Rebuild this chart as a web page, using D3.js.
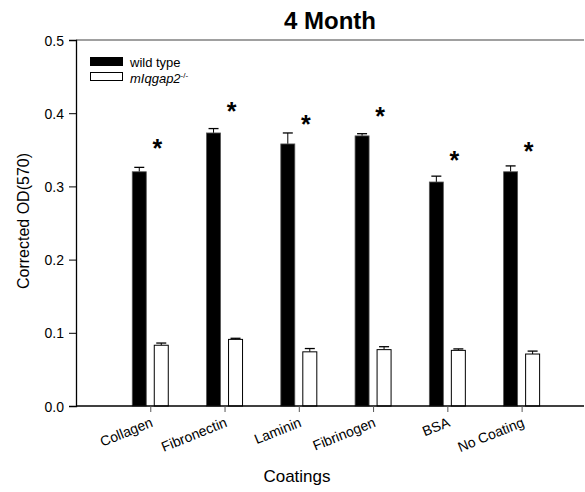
<!DOCTYPE html>
<html>
<head>
<meta charset="utf-8">
<script src="https://cdn.jsdelivr.net/npm/d3@7"></script>
<style>
  body { margin: 0; background: #fff; }
  svg { display: block; font-family: "Liberation Sans", Arial, sans-serif; }
</style>
</head>
<body>
<div class="chart"></div>
<script>
// data
var coatings = ["Collagen", "Fibronectin", "Laminin", "Fibrinogen", "BSA", "No Coating"];
var wildType = [0.320, 0.373, 0.358, 0.369, 0.306, 0.320];
var wildTypeErr = [0.006, 0.006, 0.015, 0.003, 0.008, 0.008];
var knockout = [0.083, 0.091, 0.074, 0.077, 0.076, 0.071];
var knockoutErr = [0.003, 0.0015, 0.0045, 0.004, 0.002, 0.004];
var starLevel = [0.359, 0.410, 0.392, 0.403, 0.343, 0.355];
var yTicks = [0, 0.1, 0.2, 0.3, 0.4, 0.5];

var width = 585, height = 492;
var plotLeft = 76, plotRight = 584, plotTop = 40, plotBottom = 406;

var svg = d3.select(".chart")
    .append("svg")
    .attr("width", width)
    .attr("height", height);

var x = d3.scaleLinear()
    .domain([0, 6.84])
    .range([plotLeft, plotRight]);

var y = d3.scaleLinear()
    .domain([0, 0.5])
    .range([plotBottom, plotTop]);

var barW = 14, off = 11;

// frame top line
svg.append("line")
    .attr("x1", plotLeft).attr("x2", plotRight)
    .attr("y1", y(0.5)).attr("y2", y(0.5))
    .style("stroke", "#808080")
    .style("stroke-width", 1.5);

// bars
var g = svg.append("g");

coatings.forEach(function(c, i) {
    var cx = x(i + 1);

    // wild type
    g.append("line")
        .attr("x1", cx - off).attr("x2", cx - off)
        .attr("y1", y(wildType[i])).attr("y2", y(wildType[i] + wildTypeErr[i]))
        .style("stroke", "#000");
    g.append("line")
        .attr("x1", cx - off - 5).attr("x2", cx - off + 5)
        .attr("y1", y(wildType[i] + wildTypeErr[i])).attr("y2", y(wildType[i] + wildTypeErr[i]))
        .style("stroke", "#000").style("stroke-width", 1.3);
    g.append("rect")
        .attr("x", cx - off - barW / 2)
        .attr("y", y(wildType[i]))
        .attr("width", barW)
        .attr("height", y(0) - y(wildType[i]))
        .style("fill", "#000")
        .style("stroke", "#555")
        .style("stroke-width", 0.8);

    // knockout
    g.append("line")
        .attr("x1", cx + off).attr("x2", cx + off)
        .attr("y1", y(knockout[i])).attr("y2", y(knockout[i] + knockoutErr[i]))
        .style("stroke", "#000");
    g.append("line")
        .attr("x1", cx + off - 5).attr("x2", cx + off + 5)
        .attr("y1", y(knockout[i] + knockoutErr[i])).attr("y2", y(knockout[i] + knockoutErr[i]))
        .style("stroke", "#000").style("stroke-width", 1.3);
    g.append("rect")
        .attr("x", cx + off - barW / 2)
        .attr("y", y(knockout[i]))
        .attr("width", barW)
        .attr("height", y(0) - y(knockout[i]))
        .style("fill", "#fff")
        .style("stroke", "#000")
        .style("stroke-width", 1);

    // significance star
    svg.append("text")
        .attr("x", cx + 7)
        .attr("y", y(starLevel[i]) + 14)
        .attr("text-anchor", "middle")
        .style("font-size", "25px")
        .style("font-weight", "bold")
        .text("*");
});

// y axis
var yAxis = svg.append("g")
    .attr("transform", "translate(" + plotLeft + ",0)")
    .call(d3.axisLeft(y).tickValues(yTicks).tickFormat(d3.format(".1f")).tickSizeOuter(0).tickSize(7));
yAxis.select(".domain").style("stroke", "#000").style("stroke-width", 1.3);
yAxis.selectAll(".tick line").style("stroke", "#000");
yAxis.selectAll("text")
    .style("font-size", "14px")
    .style("font-family", "Liberation Sans, Arial, sans-serif")
    .attr("x", -12)
    .attr("dy", "0.36em");

// x axis
var xAxis = svg.append("g")
    .attr("transform", "translate(0," + plotBottom + ")")
    .call(d3.axisBottom(x).tickValues(d3.range(1, coatings.length + 1)).tickFormat(function(d) { return coatings[d - 1]; }).tickSizeOuter(0).tickSize(6));
xAxis.select(".domain").attr("d", "M" + plotLeft + ",0H" + plotRight).style("stroke", "#000").style("stroke-width", 1.3);
xAxis.selectAll(".tick line").style("stroke", "#555");
xAxis.selectAll("text")
    .style("font-size", "14px")
    .style("font-family", "Liberation Sans, Arial, sans-serif")
    .attr("text-anchor", "end")
    .attr("x", 0).attr("y", 0).attr("dy", 0)
    .attr("transform", "translate(3,20) rotate(-22)");

// axis titles
svg.append("text")
    .attr("x", 297)
    .attr("y", 482)
    .attr("text-anchor", "middle")
    .style("font-size", "17px")
    .text("Coatings");

svg.append("text")
    .attr("transform", "translate(29," + 221 + ") rotate(-90)")
    .attr("text-anchor", "middle")
    .style("font-size", "16px")
    .text("Corrected OD(570)");

svg.append("text")
    .attr("x", 330)
    .attr("y", 29)
    .attr("text-anchor", "middle")
    .style("font-size", "24px")
    .style("font-weight", "bold")
    .text("4 Month");

// legend
var leg = svg.append("g").attr("transform", "translate(90,57)");
leg.append("rect").attr("x", 0).attr("y", 0).attr("width", 33).attr("height", 9)
    .style("fill", "#000");
leg.append("text").attr("x", 40).attr("y", 10).style("font-size", "13px").text("wild type");
leg.append("rect").attr("x", 0.5).attr("y", 15.5).attr("width", 32).attr("height", 8)
    .style("fill", "#fff").style("stroke", "#000");
var t2 = leg.append("text").attr("x", 40).attr("y", 26).style("font-size", "13px");
t2.append("tspan").style("font-style", "italic").text("mIqgap2");
t2.append("tspan").attr("dy", -5).style("font-size", "8px").text("-/-");
</script>
</body>
</html>
